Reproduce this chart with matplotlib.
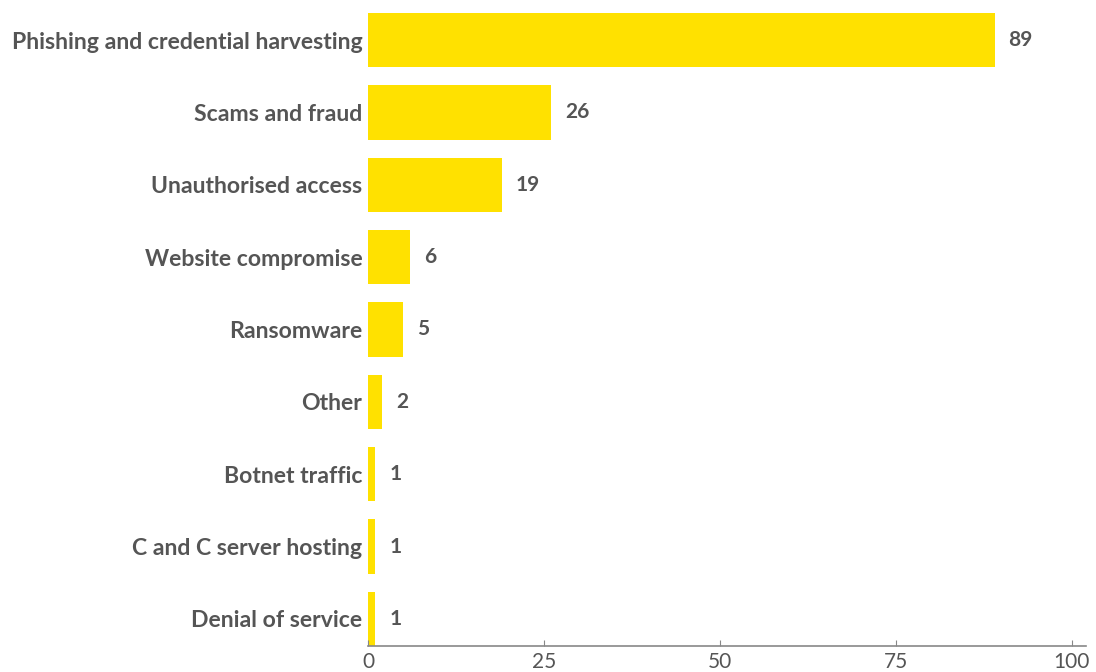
import matplotlib.pyplot as plt

# Incident categories and counts
categorias = [
    'Phishing and credential harvesting',
    'Scams and fraud',
    'Unauthorised access',
    'Website compromise',
    'Ransomware',
    'Other',
    'Botnet traffic',
    'C and C server hosting',
    'Denial of service',
]
valores = [89, 26, 19, 6, 5, 2, 1, 1, 1]
ticks_x = [0, 25, 50, 75, 100]

amarillo = '#FFE100'
gris = '#555555'

plt.rcParams['font.family'] = ['Lato', 'DejaVu Sans']

fig = plt.figure(figsize=(10.96, 6.72), dpi=100)
ax = fig.add_axes([0.3358, 0.0387, 0.6551, 0.942])

y = list(range(len(categorias)))
ax.barh(y, valores, height=0.75, color=amarillo)

# Value labels next to each bar
for yi, v in zip(y, valores):
    ax.text(v + 2.0, yi, str(v), va='center', ha='left',
            fontsize=15, fontweight='bold', color=gris)

ax.set_yticks(y)
ax.set_yticklabels(categorias, fontsize=16.6, fontweight='bold', color=gris)
ax.set_ylim(len(categorias) - 0.625, -0.375)
ax.set_xlim(0, 102)
ax.set_xticks(ticks_x)
ax.set_xticklabels([str(t) for t in ticks_x], fontsize=15, color=gris)

for s in ['top', 'right', 'left']:
    ax.spines[s].set_visible(False)
ax.spines['bottom'].set_color('#888888')
ax.spines['bottom'].set_linewidth(1.2)
ax.tick_params(axis='y', length=0, pad=4)
ax.tick_params(axis='x', direction='in', length=4, color='#888888', pad=4)

fig.savefig('out.png', dpi=100)
